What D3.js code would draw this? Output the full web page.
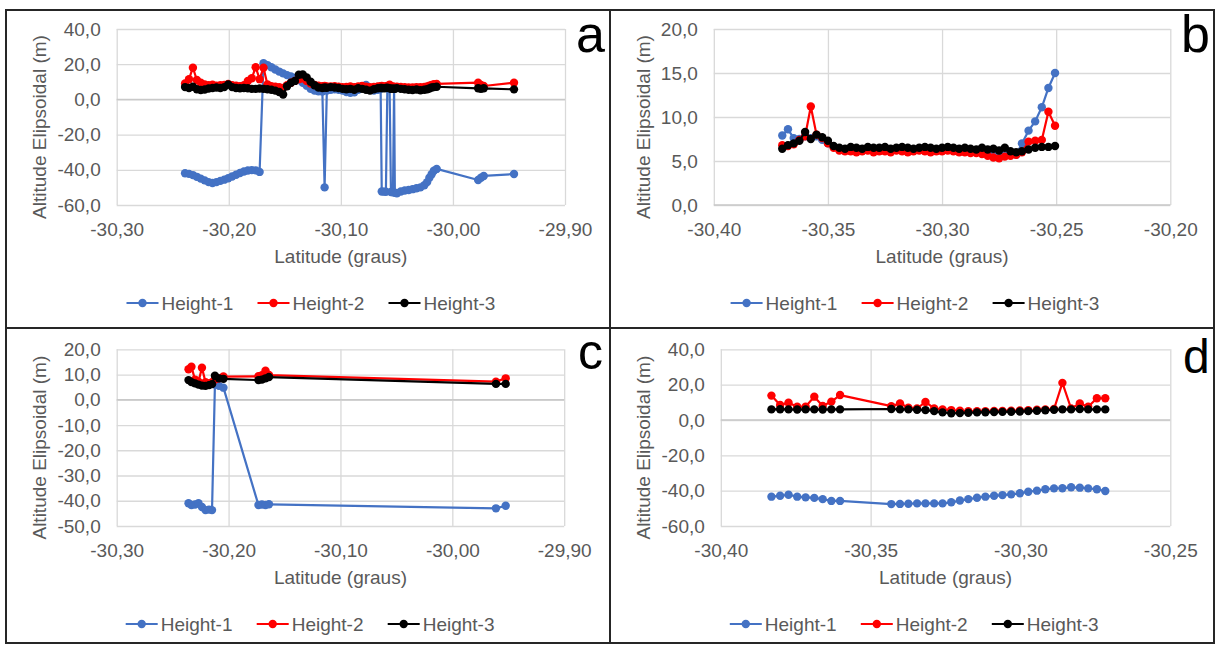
<!DOCTYPE html>
<html>
<head>
<meta charset="utf-8">
<script src="https://cdn.jsdelivr.net/npm/d3@7"></script>
<style>
  html, body { margin: 0; padding: 0; background: #ffffff; }
  svg { display: block; }
  text { font-family: "Liberation Sans", Arial, sans-serif; }
</style>
</head>
<body>
<svg id="chart" width="1216" height="646"></svg>
<script>
// ---- Data: latitude (degrees) and ellipsoidal heights (m) per survey line ----
const seriesNames = ["Height-1", "Height-2", "Height-3"];
const seriesColors = ["#4472C4", "#FF0000", "#000000"];

// Line a
const latA = [-30.2390,-30.2355,-30.2320,-30.2285,-30.2250,-30.2215,-30.2180,-30.2145,-30.2110,-30.2075,
  -30.2040,-30.2005,-30.1970,-30.1935,-30.1900,-30.1865,-30.1830,-30.1795,-30.1760,-30.1725,
  -30.1690,-30.1655,-30.1620,-30.1585,-30.1550,-30.1515,-30.1480,-30.1445,-30.1410,-30.1375,
  -30.1340,-30.1305,-30.1270,-30.1235,-30.1200,-30.1165,-30.1145,-30.1125,-30.1090,-30.1055,
  -30.1020,-30.0985,-30.0950,-30.0915,-30.0880,-30.0845,-30.0810,-30.0775,-30.0740,-30.0705,
  -30.0670,-30.0645,-30.0635,-30.0615,-30.0598,-30.0585,-30.0565,-30.0553,-30.0535,-30.0525,
  -30.0518,-30.0500,-30.0465,-30.0430,-30.0395,-30.0360,-30.0325,-30.0290,-30.0255,-30.0230,
  -30.0210,-30.0190,-30.0170,-30.0145,-29.9775,-29.9750,-29.9725,-29.9455];
const h1A = [-42.0,-42.3,-43.0,-44.0,-45.0,-46.0,-47.0,-47.5,-47.0,-46.3,
  -45.6,-44.8,-43.8,-42.8,-41.8,-41.0,-40.4,-40.2,-40.3,-41.2,
  20.5,19.5,18.3,17.0,15.8,14.8,13.8,13.0,12.2,11.0,
  9.5,7.8,6.0,5.0,4.6,4.5,-50.0,5.0,5.5,5.8,
  5.5,5.0,4.2,3.8,4.0,5.5,7.5,8.2,6.0,5.0,
  5.5,6.0,-52.3,-52.4,-52.5,6.5,6.3,-52.6,-52.8,6.0,
  -53.0,-53.3,-52.3,-51.8,-51.5,-51.0,-50.5,-50.0,-48.8,-47.0,
  -44.5,-42.5,-40.5,-39.5,-45.8,-44.5,-43.5,-42.4];
const h2A = [9.0,11.5,18.0,11.0,9.5,8.5,8.0,8.3,7.8,8.0,
  8.2,8.8,8.0,7.8,7.5,8.0,10.5,12.0,18.3,11.5,
  18.0,8.5,7.5,7.2,7.0,6.5,8.0,9.5,10.5,11.5,
  12.0,10.5,9.0,8.2,7.8,7.5,7.6,7.4,7.3,7.5,
  7.2,7.0,7.1,7.3,7.0,7.4,7.6,7.2,7.0,7.1,
  7.3,7.5,7.6,7.4,7.3,7.6,8.3,7.5,7.3,7.1,
  7.0,7.2,7.1,6.9,6.8,6.8,7.0,6.9,7.1,7.4,
  7.8,8.2,8.6,8.8,9.5,8.2,7.6,9.5];
const h3A = [7.0,6.5,7.2,5.8,5.3,5.6,6.2,6.5,6.8,6.5,
  7.0,8.5,7.0,6.5,6.3,6.5,6.3,6.0,6.0,6.2,
  6.0,5.8,5.5,5.0,4.2,2.8,7.5,9.5,10.5,14.0,
  14.2,12.5,10.0,8.0,6.8,6.5,6.8,6.6,7.0,6.8,
  6.5,6.0,5.8,6.0,5.5,6.3,6.0,5.5,5.0,5.8,
  6.3,6.5,6.5,6.3,6.5,6.6,6.3,6.0,6.2,6.0,
  6.0,6.4,6.0,5.8,5.5,5.3,5.6,5.2,5.5,5.8,
  6.2,6.8,7.0,7.2,6.3,6.0,6.3,5.7];

// Line b
const latB = [-30.3700,-30.3675,-30.3650,-30.3625,-30.3600,-30.3575,-30.3550,-30.3525,-30.3500,-30.3475,
  -30.3450,-30.3425,-30.3400,-30.3375,-30.3350,-30.3325,-30.3300,-30.3275,-30.3250,-30.3225,
  -30.3200,-30.3175,-30.3150,-30.3125,-30.3100,-30.3075,-30.3050,-30.3025,-30.3000,-30.2975,
  -30.2950,-30.2925,-30.2900,-30.2875,-30.2850,-30.2825,-30.2800,-30.2775,-30.2750,-30.2725,
  -30.2700,-30.2675,-30.2650,-30.2621,-30.2592,-30.2563,-30.2534,-30.2505];
const h1B = [7.9,8.6,7.6,7.5,7.8,7.6,7.8,7.4,7.0,6.6,
  6.4,6.3,6.4,6.3,6.3,6.4,6.3,6.3,6.4,6.3,
  6.3,6.4,6.3,6.3,6.3,6.4,6.3,6.2,6.3,6.4,
  6.3,6.2,6.3,6.2,6.1,6.2,6.1,6.0,5.9,5.8,
  5.9,5.7,7.0,8.45,9.5,11.1,13.3,15.0];
const h2B = [6.8,6.7,6.9,7.4,7.8,11.2,8.0,7.6,7.0,6.5,
  6.2,6.1,6.1,6.0,6.1,6.2,6.0,6.1,6.1,6.0,
  6.2,6.1,6.0,6.1,6.2,6.1,6.0,6.1,6.1,6.2,
  6.1,6.0,6.0,5.9,5.9,5.8,5.6,5.4,5.3,5.5,
  5.6,5.7,6.0,7.2,7.3,7.4,10.6,9.0];
const h3B = [6.4,6.8,7.0,7.3,8.3,7.5,8.0,7.7,7.3,6.7,
  6.5,6.4,6.6,6.5,6.4,6.6,6.5,6.5,6.6,6.4,
  6.5,6.6,6.5,6.4,6.5,6.6,6.5,6.4,6.5,6.6,
  6.5,6.4,6.5,6.4,6.3,6.5,6.3,6.4,6.2,6.5,
  6.1,6.0,6.1,6.3,6.5,6.6,6.6,6.7];

// Line c
const latC = [-30.2358,-30.2332,-30.2300,-30.2269,-30.2238,-30.2206,-30.2175,-30.2148,-30.2122,
  -30.2086,-30.2046,-30.1733,-30.1702,-30.1670,-30.1639,-29.9610,-29.9523];
const h1C = [-41.0,-41.7,-41.5,-41.0,-42.5,-43.7,-43.5,-43.7,6.0,5.5,4.8,-41.7,-41.5,-41.7,-41.4,-43.0,-42.0];
const h2C = [12.1,13.1,8.0,7.2,12.7,7.0,6.5,7.0,8.0,8.5,9.2,9.3,9.7,11.5,9.8,7.2,8.5];
const h3C = [7.8,7.0,6.5,6.0,5.6,5.5,5.8,6.2,9.5,8.5,8.3,7.8,8.0,8.5,9.0,6.3,6.3];

// Line d
const latD = [-30.3831,-30.3802,-30.3774,-30.3745,-30.3717,-30.3688,-30.3660,-30.3631,-30.3602,
  -30.3431,-30.3402,-30.3374,-30.3345,-30.3317,-30.3288,-30.3260,-30.3231,-30.3202,-30.3174,
  -30.3145,-30.3117,-30.3088,-30.3060,-30.3031,-30.3002,-30.2974,-30.2945,-30.2917,-30.2888,
  -30.2860,-30.2831,-30.2802,-30.2774,-30.2745,-30.2717];
const h1D = [-43.4,-42.9,-42.3,-43.4,-43.8,-44.1,-44.8,-45.8,-45.8,
  -47.6,-47.5,-47.4,-47.2,-47.2,-47.2,-47.2,-46.6,-45.6,-44.8,
  -44.0,-43.4,-42.9,-42.5,-42.1,-41.5,-40.6,-40.0,-39.2,-38.7,
  -38.6,-38.1,-38.3,-38.7,-39.2,-40.2];
const h2D = [13.8,8.5,9.8,7.5,7.5,13.2,7.9,10.4,14.1,
  7.8,9.3,7.0,6.5,10.2,6.5,6.0,5.6,5.2,5.0,
  4.9,5.0,5.1,5.1,5.3,5.4,5.5,5.8,6.0,6.2,
  21.0,6.5,9.3,7.5,12.3,12.3];
const h3D = [6.0,6.1,6.0,5.9,6.0,6.0,5.9,6.0,6.0,
  6.2,6.0,6.0,5.8,5.6,5.0,4.3,3.8,3.9,4.1,
  4.3,4.4,4.5,4.6,4.7,4.8,5.0,5.2,5.5,5.8,
  6.0,6.0,6.2,6.0,6.0,6.0];

// Axis ticks
const xTicksAC = [-30.30, -30.20, -30.10, -30.00, -29.90];
const xTicksB = [-30.40, -30.35, -30.30, -30.25, -30.20];
const xTicksD = [-30.40, -30.35, -30.30, -30.25];
const yTicksA = [-60, -40, -20, 0, 20, 40];
const yTicksB = [0, 5, 10, 15, 20];
const yTicksC = [-50, -40, -30, -20, -10, 0, 10, 20];
const yTicksD = [-60, -40, -20, 0, 20, 40];

// Axis titles and panel tags
const xTitle = "Latitude (graus)";
const yTitle = "Altitude Elipsoidal (m)";
const panelTags = ["a", "b", "c", "d"];

// ---- Layout ----
const panels = [
  { tag: panelTags[0], lat: latA, h: [h1A, h2A, h3A], xTicks: xTicksAC, yTicks: yTicksA,
    box: { l: 116.7, r: 565, t: 29, b: 205 }, yTitleX: 39, legendY: 303, legendX: 126.5,
    tagPos: [576, 52], tagSize: 52 },
  { tag: panelTags[1], lat: latB, h: [h1B, h2B, h3B], xTicks: xTicksB, yTicks: yTicksB,
    box: { l: 713.8, r: 1170.3, t: 29, b: 205 }, yTitleX: 643, legendY: 303, legendX: 730.6,
    tagPos: [1181, 52], tagSize: 52 },
  { tag: panelTags[2], lat: latC, h: [h1C, h2C, h3C], xTicks: xTicksAC, yTicks: yTicksC,
    box: { l: 116.7, r: 564.2, t: 349.3, b: 526 }, yTitleX: 39, legendY: 624, legendX: 125.7,
    tagPos: [578, 369], tagSize: 50 },
  { tag: panelTags[3], lat: latD, h: [h1D, h2D, h3D], xTicks: xTicksD, yTicks: yTicksD,
    box: { l: 720.8, r: 1170.3, t: 349.3, b: 526 }, yTitleX: 643, legendY: 624, legendX: 729.8,
    tagPos: [1183, 373], tagSize: 48 }
];

const locale = d3.formatLocale({ decimal: ",", thousands: ".", grouping: [3], currency: ["", ""], minus: "-" });
const fmtX = locale.format(".2f");
const fmtY = locale.format(".1f");

const svg = d3.select("#chart");
const gridColor = "#d9d9d9";
const textColor = "#595959";
const markerR = 4.2;

// Frame and panel dividers
svg.append("rect").attr("x", 6).attr("y", 10).attr("width", 1208).attr("height", 633)
  .attr("fill", "none").attr("stroke", "#262626").attr("stroke-width", 2);
svg.append("line").attr("x1", 610).attr("x2", 610).attr("y1", 10).attr("y2", 643)
  .attr("stroke", "#262626").attr("stroke-width", 2);
svg.append("line").attr("x1", 6).attr("x2", 1214).attr("y1", 328).attr("y2", 328)
  .attr("stroke", "#262626").attr("stroke-width", 2);

panels.forEach(p => {
  const { l, r, t, b } = p.box;
  const x = d3.scaleLinear().domain([p.xTicks[0], p.xTicks[p.xTicks.length - 1]]).range([l, r]);
  const y = d3.scaleLinear().domain([p.yTicks[0], p.yTicks[p.yTicks.length - 1]]).range([b, t]);
  const g = svg.append("g");

  // Gridlines
  g.append("g").attr("transform", `translate(0,${b})`)
    .call(d3.axisBottom(x).tickValues(p.xTicks).tickSize(-(b - t)).tickFormat(""))
    .call(s => s.select(".domain").remove())
    .call(s => s.selectAll("line").attr("stroke", gridColor).attr("stroke-width", 1.3));
  g.append("g").attr("transform", `translate(${l},0)`)
    .call(d3.axisLeft(y).tickValues(p.yTicks).tickSize(-(r - l)).tickFormat(""))
    .call(s => s.select(".domain").remove())
    .call(s => s.selectAll("line").attr("stroke", gridColor).attr("stroke-width", 1.3));
  // Zero line
  g.append("line").attr("x1", l).attr("x2", r).attr("y1", y(0)).attr("y2", y(0))
    .attr("stroke", "#c9c9c9").attr("stroke-width", 1.5);

  // Tick labels
  g.append("g").attr("transform", `translate(0,${b})`)
    .call(d3.axisBottom(x).tickValues(p.xTicks).tickSize(0).tickPadding(18).tickFormat(fmtX))
    .call(s => s.select(".domain").remove())
    .call(s => s.selectAll("text").attr("fill", textColor).attr("font-size", 19)
      .attr("font-family", '"Liberation Sans", Arial, sans-serif'));
  g.append("g").attr("transform", `translate(${l},0)`)
    .call(d3.axisLeft(y).tickValues(p.yTicks).tickSize(0).tickPadding(16).tickFormat(fmtY))
    .call(s => s.select(".domain").remove())
    .call(s => s.selectAll("text").attr("fill", textColor).attr("font-size", 19)
      .attr("font-family", '"Liberation Sans", Arial, sans-serif'));

  // Axis titles
  g.append("text").attr("x", (l + r) / 2).attr("y", b + 58).attr("text-anchor", "middle")
    .attr("fill", textColor).attr("font-size", 19).text(xTitle);
  g.append("text").attr("transform", `translate(${p.yTitleX},${(t + b) / 2 + 10}) rotate(-90)`)
    .attr("text-anchor", "middle").attr("dominant-baseline", "central")
    .attr("fill", textColor).attr("font-size", 19).text(yTitle);

  // Series: line then markers, drawn in series order
  p.h.forEach((vals, si) => {
    const pts = p.lat.map((la, i) => [la, vals[i]]);
    g.append("path").datum(pts)
      .attr("d", d3.line().x(d => x(d[0])).y(d => y(d[1])))
      .attr("fill", "none").attr("stroke", seriesColors[si]).attr("stroke-width", 2.2)
      .attr("stroke-linejoin", "round");
    g.append("g").selectAll("circle").data(pts).join("circle")
      .attr("cx", d => x(d[0])).attr("cy", d => y(d[1])).attr("r", markerR)
      .attr("fill", seriesColors[si]);
  });

  // Legend
  const leg = g.append("g").attr("transform", `translate(${p.legendX},${p.legendY})`);
  seriesNames.forEach((name, si) => {
    const item = leg.append("g").attr("transform", `translate(${si * 131},0)`);
    item.append("line").attr("x1", 0).attr("x2", 32).attr("stroke", seriesColors[si]).attr("stroke-width", 2.2);
    item.append("circle").attr("cx", 16).attr("r", markerR).attr("fill", seriesColors[si]);
    item.append("text").attr("x", 35).attr("dominant-baseline", "central")
      .attr("fill", textColor).attr("font-size", 19).text(name);
  });

  // Panel tag
  svg.append("text").attr("x", p.tagPos[0]).attr("y", p.tagPos[1])
    .attr("font-size", p.tagSize).attr("fill", "#000").text(p.tag);
});
</script>
</body>
</html>
